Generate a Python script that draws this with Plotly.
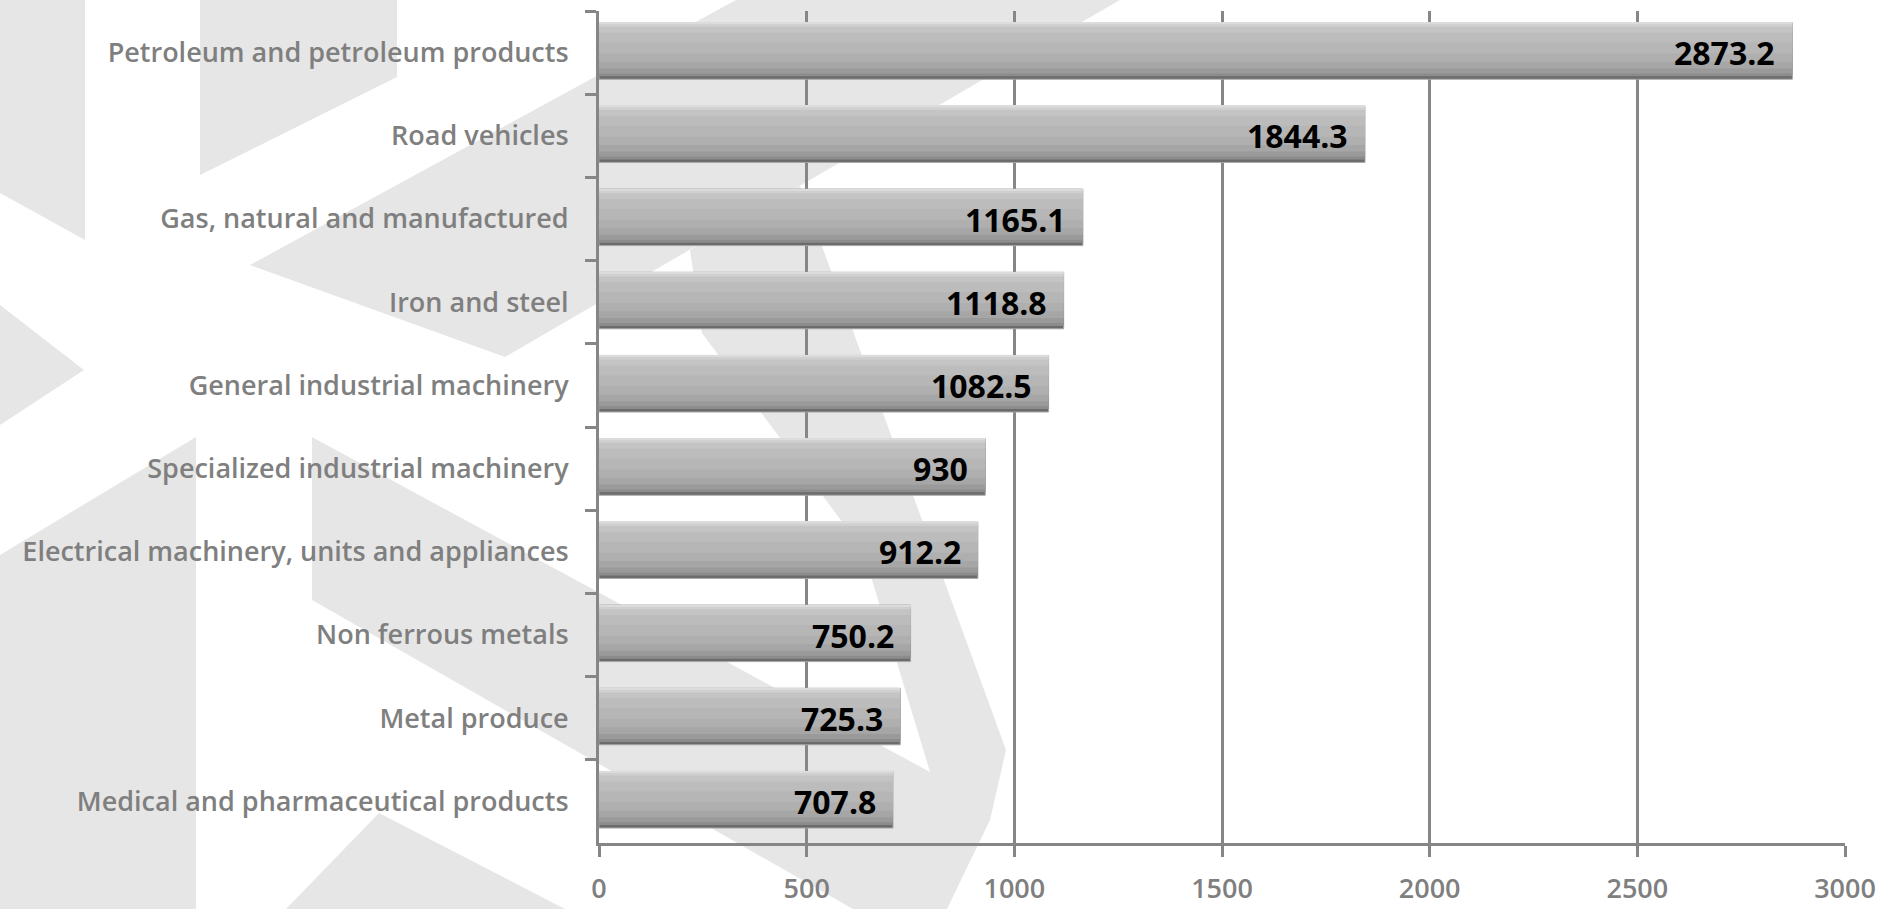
import plotly.graph_objects as go

# ---------------- data ----------------
categories = [
    "Petroleum and petroleum products",
    "Road vehicles",
    "Gas, natural and manufactured",
    "Iron and steel",
    "General industrial machinery",
    "Specialized industrial machinery",
    "Electrical machinery, units and appliances",
    "Non ferrous metals",
    "Metal produce",
    "Medical and pharmaceutical products",
]
values = [2873.2, 1844.3, 1165.1, 1118.8, 1082.5, 930, 912.2, 750.2, 725.3, 707.8]
value_labels = ["2873.2", "1844.3", "1165.1", "1118.8", "1082.5", "930", "912.2", "750.2", "725.3", "707.8"]
x_ticks = [0, 500, 1000, 1500, 2000, 2500, 3000]

# ---------------- styling ----------------
W, H = 1897, 909
ML, MR, MT, MB = 599, 52, 11, 66
PW, PH = W - ML - MR, H - MT - MB
AXIS = "#868686"
LABEL = "#7f7f7f"
WM = "#e6e6e6"

# bar "bevel" layers: (band fraction from top, colour)
BAR_TOP = -0.36
layers = [
    (0.68, "#6b6b6b"),
    (0.645, "#8c8c8c"),
    (0.61, "#9a9a9a"),
    (0.55, "#a6a6a6"),
    (0.47, "#afafaf"),
    (0.37, "#b6b6b6"),
    (0.24, "#bcbcbc"),
    (0.12, "#c4c4c4"),
    (0.05, "#cfcfcf"),
    (0.02, "#dcdcdc"),
]

fig = go.Figure()
for i, (w, c) in enumerate(layers):
    fig.add_trace(go.Bar(
        y=categories, x=values, orientation="h",
        width=w, offset=BAR_TOP,
        marker=dict(color=c, line=dict(color="#a8a8a8" if i == 0 else c, width=1 if i == 0 else 0)),
        hoverinfo="skip", showlegend=False,
    ))

annotations = []
for cat, v, lab in zip(categories, values, value_labels):
    annotations.append(dict(
        x=v, y=cat, xref="x", yref="y", text=lab, showarrow=False,
        xanchor="right", yanchor="middle", xshift=-15, yshift=0,
        font=dict(family="Open Sans", size=32, color="#000000", weight="bold"),
    ))

# watermark polygons, pixel coords of the page
polys = [
    [(0, 0), (85, 0), (85, 240), (0, 193)],
    [(200, 0), (397, 0), (397, 77), (200, 175)],
    [(736, 0), (1120, 0), (505, 357), (250, 265)],
    [(0, 305), (84, 370), (0, 425)],
    [(0, 555), (196, 437), (196, 909), (0, 909)],
    [(690, 250), (702, 333), (863, 550), (930, 772), (312, 437), (312, 600),
     (853, 909), (947, 909), (990, 820), (1006, 750), (933, 550), (800, 186)],
    [(286, 909), (379, 813), (565, 909)],
]
shapes = []
for p in polys:
    pts = [((x - ML) / PW, (H - MB - y) / PH) for x, y in p]
    path = "M " + " L ".join(f"{a:.5f},{b:.5f}" for a, b in pts) + " Z"
    shapes.append(dict(type="path", xref="paper", yref="paper", path=path,
                       fillcolor=WM, line=dict(width=0), layer="below"))

fig.update_layout(
    width=W, height=H, autosize=False,
    margin=dict(l=ML, r=MR, t=MT, b=MB, pad=0, autoexpand=False),
    paper_bgcolor="white", plot_bgcolor="rgba(0,0,0,0)",
    barmode="overlay",
    shapes=shapes, annotations=annotations,
    font=dict(family="Open Sans", color=LABEL),
)
fig.update_xaxes(
    range=[0, 3000], tickvals=x_ticks, ticktext=[str(t) for t in x_ticks],
    showgrid=True, gridcolor=AXIS, gridwidth=2.5,
    showline=True, linecolor=AXIS, linewidth=3,
    ticks="outside", ticklen=11, tickwidth=2.5, tickcolor=AXIS,
    tickfont=dict(family="Open Sans", size=27, color=LABEL, weight=600),
    ticklabelstandoff=9, zeroline=False, fixedrange=True, automargin=False,
)
fig.update_yaxes(
    type="category", categoryorder="array", categoryarray=categories,
    range=[9.5, -0.5],
    showgrid=False, showline=True, linecolor=AXIS, linewidth=3,
    ticks="outside", ticklen=11, tickwidth=2.5, tickcolor=AXIS, tickson="boundaries",
    tickfont=dict(family="Open Sans", size=27, color=LABEL, weight=600),
    ticklabelstandoff=22, zeroline=False, fixedrange=True, automargin=False,
)

fig.write_html("out.html")
